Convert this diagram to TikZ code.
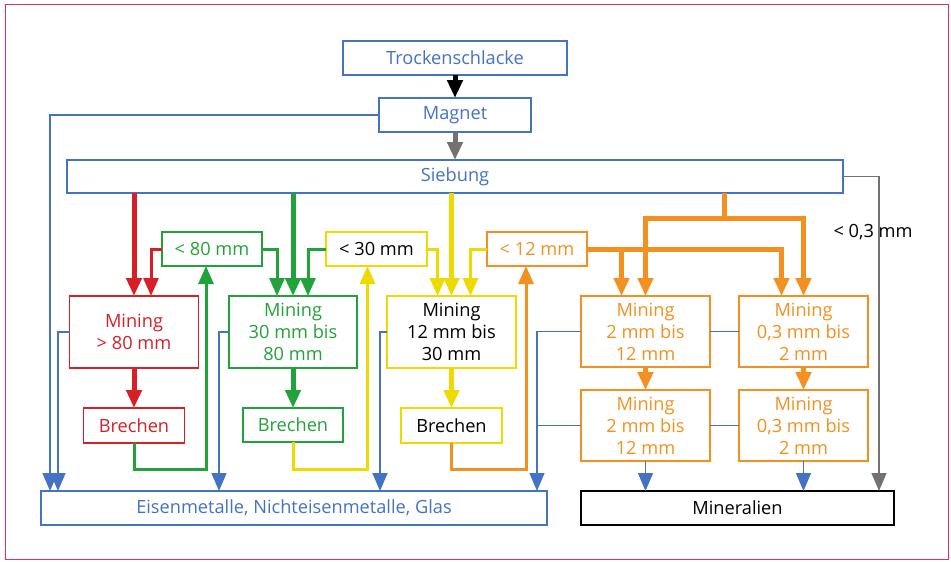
\documentclass[tikz,border=0pt]{standalone}
\usepackage{fontspec}
\setmainfont{Open Sans}
\usetikzlibrary{arrows.meta,calc}
\definecolor{cb}{HTML}{4472C4}
\definecolor{cred}{HTML}{D61F26}
\definecolor{cgreen}{HTML}{22A23A}
\definecolor{cyellow}{HTML}{EEDA00}
\definecolor{corange}{HTML}{F39020}
\definecolor{cgray}{HTML}{767171}
\definecolor{cframe}{HTML}{E0306A}
\begin{document}
\begin{tikzpicture}[x=1pt,y=-1pt,
  box/.style={draw, line width=1.3pt, inner sep=0pt, outer sep=0pt, align=center,
    font=\fontsize{18.2}{22}\selectfont},
  wh/.style 2 args={minimum width=#1pt, minimum height=#2pt},
  bluebox/.style={draw=cb, text=cb},
  redbox/.style={draw=cred, text=cred},
  greenbox/.style={draw=cgreen, text=cgreen},
  yellowbox/.style={draw=cyellow, text=black},
  orangebox/.style={draw=corange, text=corange},
  tip/.style={-{Triangle[width=15pt,length=18pt]}},
  thickln/.style={line width=5pt},
  medln/.style={line width=3pt},
  thinln/.style={line width=1.4pt},
]
\useasboundingbox (0,0) rectangle (951,562);
\draw[cframe, line width=1.5pt] (5.5,4.5) rectangle (948.5,559.5);

% nodes
\node[box, bluebox, wh={224}{34}] (tro) at (455,58) {Trockenschlacke};
\node[box, bluebox, wh={152}{34}] (mag) at (455,115) {Magnet};
\node[box, bluebox, wh={776}{33}] (sieb) at (455,176.5) {Siebung};
\node[box, redbox, wh={129}{72}] (m80) at (134,332) {Mining\\> 80 mm};
\node[box, greenbox, wh={128}{72}] (m30) at (293,332) {Mining\\30 mm bis\\80 mm};
\node[box, yellowbox, wh={129}{72}] (m12) at (451.5,332) {Mining\\12 mm bis\\30 mm};
\node[box, greenbox, wh={100}{34}] (l80) at (212,249) {< 80 mm};
\node[box, yellowbox, wh={101}{34}] (l30) at (376.5,249) {< 30 mm};
\node[box, orangebox, wh={100}{34}] (l12) at (537,249) {< 12 mm};
\node[box, redbox, wh={101}{35}] (b80) at (134,425.5) {Brechen};
\node[box, greenbox, wh={100}{34}] (b30) at (293,425) {Brechen};
\node[box, yellowbox, wh={101}{35}] (b12) at (451.5,425.5) {Brechen};
\node[box, orangebox, wh={129}{71}] (ma) at (645.5,331.5) {Mining\\2 mm bis\\12 mm};
\node[box, orangebox, wh={129}{71}] (mb) at (803.5,331.5) {Mining\\0,3 mm bis\\2 mm};
\node[box, orangebox, wh={129}{71}] (mc) at (645.5,425.5) {Mining\\2 mm bis\\12 mm};
\node[box, orangebox, wh={129}{71}] (md) at (803.5,425.5) {Mining\\0,3 mm bis\\2 mm};
\node[box, bluebox, wh={506}{34}] (eis) at (294,508) {Eisenmetalle, Nichteisenmetalle, Glas};
\node[box, draw=black, text=black, wh={313}{34}] (min) at (737.5,508) {Mineralien};
\node[font=\fontsize{18.2}{22}\selectfont, text=black, inner sep=0pt] (lab) at (873,232) {< 0,3 mm};

% main chain
\draw[thickln, black, tip] (tro) -- (mag);
\draw[thickln, cgray, tip] (mag) -- (sieb);

% blue collectors
\draw[thinln, cb, tip] (mag.west) -| ([xshift=9pt]eis.north west);
\draw[thinln, cb, tip] (m80.west) -| ([xshift=17pt]eis.north west);
\draw[thinln, cb, tip] (m30.west) -| ([xshift=178pt]eis.north west);
\draw[thinln, cb, tip] (m12.west) -| ([xshift=339pt]eis.north west);
\draw[thinln, cb, tip] (ma.west) -| ([xshift=496pt]eis.north west);
\draw[thinln, cb] (mc.west) -- ++(-44,0);
\draw[thinln, cb] (ma.east) -- (mb.west);
\draw[thinln, cb] (mc.east) -- (md.west);
\draw[thinln, cb, tip] (mc.south) -- (mc.south |- min.north);
\draw[thinln, cb, tip] (md.south) -- (md.south |- min.north);
\draw[thinln, cgray, tip] (sieb.east) -| ([xshift=-15pt]min.north east);

% red
\draw[thickln, cred, tip] (m80.north |- sieb.south) -- (m80.north);
\draw[medln, cred, tip] (l80.west) -| ([xshift=17pt]m80.north);
\draw[thickln, cred, tip] (m80) -- (b80);

% green
\draw[thickln, cgreen, tip] (m30.north |- sieb.south) -- (m30.north);
\draw[medln, cgreen, tip] (l80.east) -| ([xshift=-16pt]m30.north);
\draw[medln, cgreen, tip] (l30.west) -| ([xshift=15pt]m30.north);
\draw[thickln, cgreen, tip] (m30) -- (b30);
\draw[medln, cgreen, tip] (b80.south) -- ++(0,26) -| ([xshift=-6pt]l80.south);

% yellow
\draw[thickln, cyellow, tip] (m12.north |- sieb.south) -- (m12.north);
\draw[medln, cyellow, tip] (l30.east) -| ([xshift=-14pt]m12.north);
\draw[medln, cyellow, tip] (l12.west) -| ([xshift=19pt]m12.north);
\draw[thickln, cyellow, tip] (m12) -- (b12);
\draw[medln, cyellow, tip] (b30.south) -- ++(0,27) -| ([xshift=-9pt]l30.south);

% orange
\draw[medln, corange, tip] (b12.south) -- ++(0,26) -| ([xshift=-11pt]l12.south);
\coordinate (os) at ([xshift=269pt]sieb.south);
\coordinate (ob) at ([xshift=269pt,yshift=-25pt]sieb.south);
\draw[thickln, corange] (os) -- (ob);
\draw[thickln, corange, tip] (ob) -| (ma.north);
\draw[thickln, corange, tip] (ob) -| (mb.north);
\coordinate (ma1) at ([xshift=-24pt]ma.north);
\coordinate (mb1) at ([xshift=-22pt]mb.north);
\draw[thickln, corange, tip] (l12.east) -| (mb1);
\draw[thickln, corange, tip] (l12.east -| ma1) -- (ma1);
\draw[thickln, corange, tip] (ma) -- (mc);
\draw[thickln, corange, tip] (mb) -- (md);
\end{tikzpicture}
\end{document}
